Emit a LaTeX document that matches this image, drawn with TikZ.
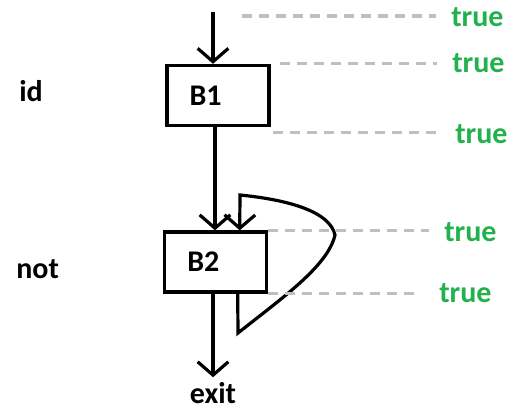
\documentclass[tikz,border=0pt]{standalone}
\usepackage{fontspec}
\setmainfont{Carlito}
\usepackage{tikz}
\usetikzlibrary{arrows.meta,positioning}
\definecolor{vert}{RGB}{34,177,76}

\begin{document}
\begin{tikzpicture}[x=0.75pt,y=-0.75pt]
          %% UN GRAPHE DE FLOT
          \useasboundingbox (0,0) rectangle (518,417);

          \tikzstyle{every node}=[font=\fontsize{22.5}{27}\selectfont\bfseries]
          \tikzstyle{bloc}=[draw,line width=2.5pt,minimum width=76.5pt,minimum height=45pt,text width=42.5pt,inner xsep=17pt,align=left]
          \tikzstyle{fleche}=[line width=2.4pt,-{Straight Barb[length=10pt,width=23pt]}]
          \tikzstyle{pointille}=[draw=black!25,line width=2.4pt,dash pattern=on 7.5pt off 5.25pt,shorten >=11pt]
          \tikzstyle{vrai}=[text=vert,anchor=base west,inner sep=0pt]

          % les blocs
          \node[bloc] (B1) at (218,95.5) {B1};
          \node[bloc] (B2) at (215.7,262) {B2};

          % etiquettes a gauche
          \node[anchor=base west,inner sep=0pt] (id) at (19,102) {id};
          \node[anchor=base west,inner sep=0pt] (not) at (16,278) {not};
          \node[anchor=base] (exit) at (213,403) {exit};

          % les true
          \node[vrai] (V1) at (451,27) {true};
          \node[vrai] (V2) at (452,73) {true};
          \node[vrai] (V3) at (455,144) {true};
          \node[vrai] (V4) at (444,242) {true};
          \node[vrai] (V5) at (439,302) {true};

          \coordinate (entree) at (213,12);
          \coordinate (d1) at (242,16);
          \coordinate (d2) at ([xshift=6.75pt]B1.north east);
          \coordinate (d3) at ([xshift=2pt,yshift=-3.75pt]B1.south east);
          \coordinate (boucle1) at (238,333);
          \coordinate (boucle2) at (335,235);
          \coordinate (boucle3) at (240,195);

          % les fleches
          \draw[fleche] (entree) -- (entree |- B1.north);
          \draw[fleche] ([xshift=-2.25pt]B1.south) -- ([xshift=-2.25pt]B1.south |- B2.north);
          \draw[fleche] (B2.south -| exit) -- (exit.north);
          \draw[fleche] ([xshift=16.5pt]B2.south) -- (boucle1)
                .. controls (282,298) and (328,266) .. (boucle2)
                .. controls (330,212) and (290,200) .. (boucle3)
                -- ([xshift=18pt]B2.north);

          % les pointilles
          \draw[pointille] (d1) -- (d1 -| V1.west);
          \draw[pointille] (d2) -- (d2 -| V2.west);
          \draw[pointille] (d3) -- (d3 -| V3.west);
          \draw[pointille] (B2.north east) -- (B2.north east -| V4.west);
          \draw[pointille,shorten >=16.5pt] (B2.south east) -- (B2.south east -| V5.west);

\end{tikzpicture}
\end{document}
